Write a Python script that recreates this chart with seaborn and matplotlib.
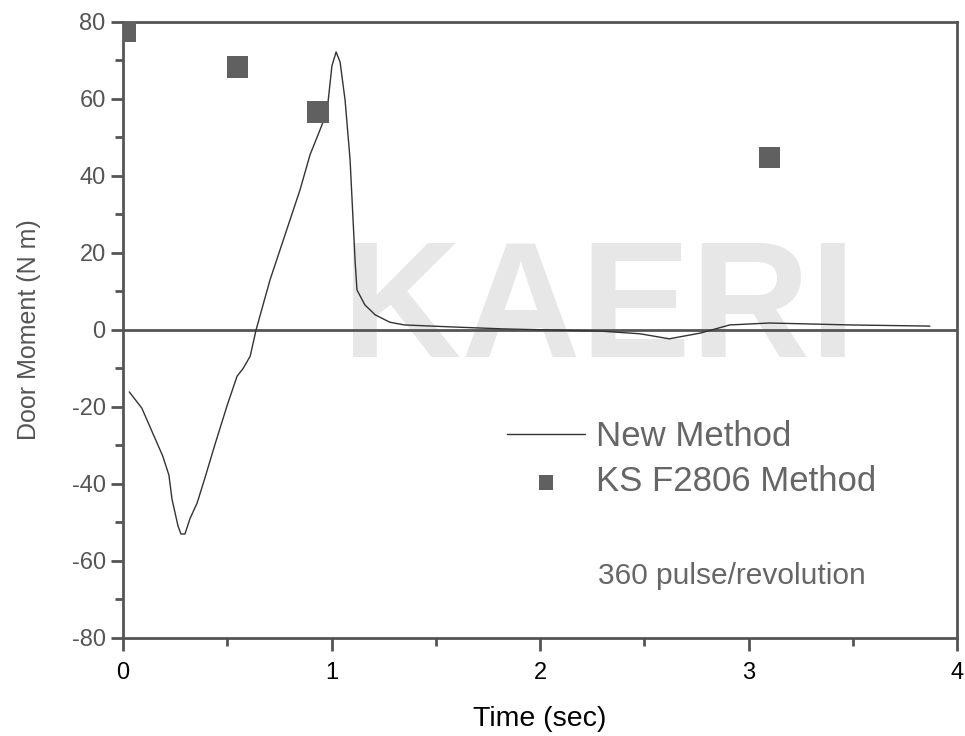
import numpy as np
import pandas as pd
import matplotlib.pyplot as plt
import seaborn as sns

# New Method curve
time_new = [0.03, 0.09, 0.19, 0.22, 0.235, 0.264, 0.278, 0.297, 0.321, 0.355, 0.393,
            0.44, 0.50, 0.547, 0.576, 0.61, 0.638, 0.705, 0.777, 0.849, 0.897, 0.945,
            0.978, 1.002, 1.022, 1.041, 1.065, 1.089, 1.113, 1.122, 1.16, 1.21, 1.28,
            1.35, 1.57, 1.81, 2.29, 2.48, 2.62, 2.77, 2.91, 3.10, 3.49, 3.87]
moment_new = [-16.1, -20.3, -32.7, -37.7, -44.0, -51.0, -53.0, -53.0, -49.0, -45.0, -38.4,
              -29.9, -19.5, -12.0, -10.0, -6.8, 0.0, 13.0, 24.7, 36.4, 45.5, 52.0,
              56.6, 68.6, 72.2, 69.6, 59.7, 44.2, 18.0, 10.4, 6.5, 3.9, 2.0,
              1.3, 0.8, 0.3, -0.3, -1.0, -2.3, -0.8, 1.3, 1.8, 1.3, 1.0]

# KS F2806 Method points
time_ks = [0.014, 0.55, 0.935, 3.10]
moment_ks = [77.4, 68.3, 56.6, 44.9]

sns.set_style("white")
plt.rcParams["font.family"] = ["Liberation Sans", "DejaVu Sans"]
plt.rcParams["axes.unicode_minus"] = False

fig = plt.figure(figsize=(9.65, 7.36), dpi=100)
ax = fig.add_axes([0.1275, 0.1332, 0.8642, 0.8370])

# faint watermark
ax.text(0.571, 0.456, "KAERI", transform=ax.transAxes, fontsize=119, fontweight="bold",
        color="#e7e7e7", ha="center", va="baseline", zorder=0)

ax.axhline(0, color="#555555", lw=2, zorder=1)

df_new = pd.DataFrame({"time": time_new, "moment": moment_new})
df_ks = pd.DataFrame({"time": time_ks, "moment": moment_ks})

sns.lineplot(data=df_new, x="time", y="moment", ax=ax, color="#333333", lw=1,
             sort=False, label="New Method", zorder=3)
sns.scatterplot(data=df_ks, x="time", y="moment", ax=ax, marker="s", s=230,
                color="#606060", edgecolor="none", label="KS F2806 Method", zorder=4)

ax.set_xlim(0, 4)
ax.set_ylim(-80, 80)
ax.set_xticks([0, 1, 2, 3, 4])
ax.set_xticks(np.arange(0.5, 4, 1), minor=True)
ax.set_yticks(np.arange(-80, 81, 20))
ax.set_yticks(np.arange(-70, 80, 20), minor=True)

for sp in ax.spines.values():
    sp.set_color("#555555")
    sp.set_linewidth(2)

ax.tick_params(axis="both", which="major", direction="out", length=9, width=2,
               color="#555555", labelsize=17)
ax.tick_params(axis="both", which="minor", direction="out", length=6, width=2,
               color="#555555")
ax.tick_params(axis="x", which="both", top=False, bottom=True, labelcolor="black", pad=8)
ax.tick_params(axis="y", which="both", right=False, left=True, labelcolor="#555555")

ax.set_xlabel("Time (sec)", fontsize=20.5, color="black", labelpad=16)
ax.set_ylabel("Door Moment (N m)", fontsize=18, color="#555555", labelpad=22)

ax.text(2.278, -63.9, "360 pulse/revolution", fontsize=21.5, color="#666666",
        ha="left", va="center")

leg = ax.legend(loc="upper left", bbox_to_anchor=(0.46, 0.354), frameon=False,
                fontsize=25, handlelength=2.26, handletextpad=0.31, labelspacing=0.36,
                borderpad=0, borderaxespad=0, markerscale=0.7)
for t in leg.get_texts():
    t.set_color("#666666")

fig.savefig("out.png", dpi=100)
